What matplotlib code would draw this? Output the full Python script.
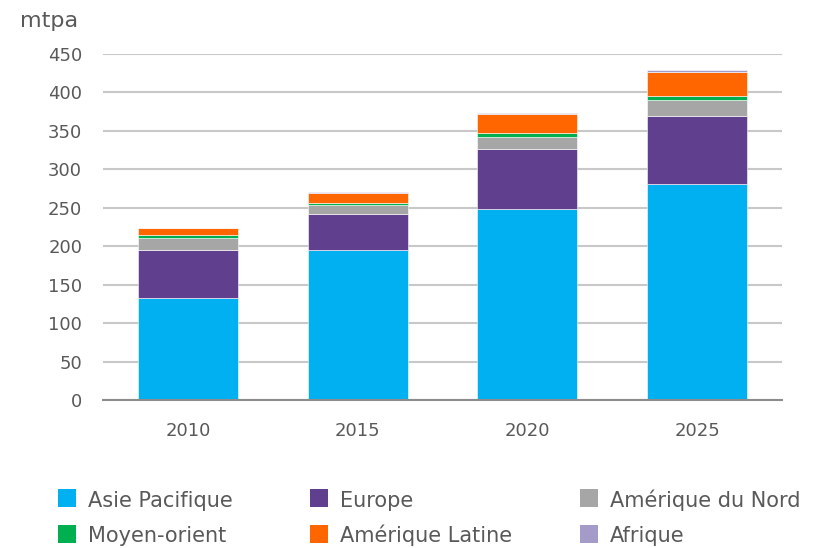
import numpy as np
import matplotlib
matplotlib.use("Agg")
import matplotlib.pyplot as plt
from matplotlib.patches import Rectangle

# data (mtpa)
years = ["2010", "2015", "2020", "2025"]
asie_pacifique = [132.6, 195.6, 249.0, 280.4]
europe = [62.6, 45.7, 77.0, 89.2]
amerique_nord = [15.2, 11.7, 16.0, 21.0]
moyen_orient = [4.0, 3.5, 5.6, 4.8]
amerique_latine = [9.0, 13.0, 24.0, 31.7]
afrique = [0.6, 0.6, 2.0, 2.5]

names = ["Asie Pacifique", "Europe", "Amérique du Nord",
         "Moyen-orient", "Amérique Latine", "Afrique"]
colours = ["#00B0F0", "#5F3F8E", "#A6A6A6", "#00B050", "#FF6600", "#A59BC8"]
series = [asie_pacifique, europe, amerique_nord, moyen_orient, amerique_latine, afrique]

txt = "#595959"
plt.rcParams['font.family'] = ['DejaVu Sans']

W, H = 827, 548
fig = plt.figure(figsize=(W / 100, H / 100), dpi=100)
ax = fig.add_axes([0.1245, 0.27, 0.821, 0.6315])

x = np.arange(len(years))
bottom = np.zeros(len(years))
for vals, col in zip(series, colours):
    ax.bar(x, vals, 0.59, bottom=bottom, color=col, edgecolor="white",
           linewidth=0.4, zorder=3)
    bottom += np.array(vals)

ax.set_xlim(-0.5, 3.5)
ax.set_ylim(0, 450)
ax.set_yticks(np.arange(0, 451, 50))
ax.set_xticks(x)
ax.set_xticklabels(years)
ax.grid(axis="y", color="#C8C8C8", linewidth=1.5, zorder=0)
for s in ["top", "right", "left"]:
    ax.spines[s].set_visible(False)
ax.spines["bottom"].set_color("#8C8C8C")
ax.spines["bottom"].set_linewidth(1.5)
ax.spines["bottom"].set_zorder(4)
ax.tick_params(axis="y", length=0, pad=15, labelsize=13, labelcolor=txt)
ax.tick_params(axis="x", length=0, pad=16, labelsize=13, labelcolor=txt)

fig.text(20 / W, 1 - 21 / H, "mtpa", fontsize=16, color=txt, va="center")

# legend laid out by hand, row by row like the original
col_x = [58, 310, 580]
box_top = [489, 525]
baseline = [507, 542]
box = 18
for i, (name, col) in enumerate(zip(names, colours)):
    r, c = divmod(i, 3)
    fig.patches.append(Rectangle((col_x[c] / W, 1 - (box_top[r] + box) / H),
                                 box / W, box / H, facecolor=col,
                                 edgecolor="none", transform=fig.transFigure))
    fig.text((col_x[c] + 30) / W, 1 - baseline[r] / H, name, fontsize=15,
             color=txt, va="baseline")

fig.savefig("out.png", dpi=100)
